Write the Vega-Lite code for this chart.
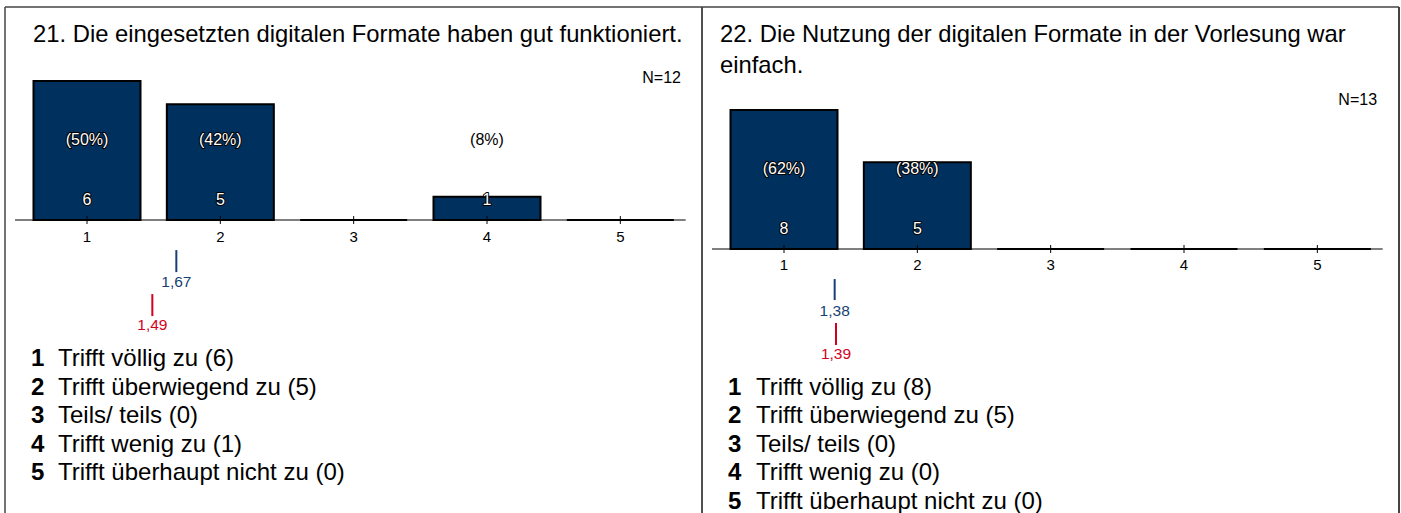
{
  "$schema": "https://vega.github.io/schema/vega-lite/v6.json",
  "autosize": {"type": "pad"},
  "padding": {"left": 4, "top": 6, "right": 1, "bottom": 0},
  "background": "white",
  "spacing": 0,
  "bounds": "flush",
  "config": {
    "axis": {"disable": true},
    "view": {"stroke": null},
    "font": "Liberation Sans",
    "text": {"font": "Liberation Sans"}
  },
  "datasets": {
    "meta1": [{"title": "21. Die eingesetzten digitalen Formate haben gut funktioniert.", "n": "N=12"}],
    "bars1": [
      {"code": 1, "count": 6, "pct": "(50%)", "label": "Trifft völlig zu (6)"},
      {"code": 2, "count": 5, "pct": "(42%)", "label": "Trifft überwiegend zu (5)"},
      {"code": 3, "count": 0, "pct": "", "label": "Teils/ teils (0)"},
      {"code": 4, "count": 1, "pct": "(8%)", "label": "Trifft wenig zu (1)"},
      {"code": 5, "count": 0, "pct": "", "label": "Trifft überhaupt nicht zu (0)"}
    ],
    "means1": [
      {"kind": "mean", "value": 1.67, "label": "1,67"},
      {"kind": "ref", "value": 1.49, "label": "1,49"}
    ],
    "meta2": [{"title": "22. Die Nutzung der digitalen Formate in der Vorlesung war\neinfach.", "n": "N=13"}],
    "bars2": [
      {"code": 1, "count": 8, "pct": "(62%)", "label": "Trifft völlig zu (8)"},
      {"code": 2, "count": 5, "pct": "(38%)", "label": "Trifft überwiegend zu (5)"},
      {"code": 3, "count": 0, "pct": "", "label": "Teils/ teils (0)"},
      {"code": 4, "count": 0, "pct": "", "label": "Trifft wenig zu (0)"},
      {"code": 5, "count": 0, "pct": "", "label": "Trifft überhaupt nicht zu (0)"}
    ],
    "means2": [
      {"kind": "mean", "value": 1.38, "label": "1,38"},
      {"kind": "ref", "value": 1.39, "label": "1,39"}
    ]
  },
  "hconcat": [
    {
      "width": 697,
      "height": 506,
      "resolve": {"scale": {"y": "independent"}},
      "layer": [
        {
          "layer": [
            {"data": {"name": "meta1"}, "mark": {"type": "rule", "color": "#444", "strokeWidth": 1.5},
             "encoding": {"x": {"datum": 0.385, "type": "quantitative", "scale": {"domain": [0.385, 5.6125], "nice": false, "zero": false, "padding": 0}},
                          "y": {"datum": 9.2009, "type": "quantitative", "scale": {"domain": [-12.656, 9.2009], "nice": false, "zero": false}},
                          "y2": {"datum": -12.656}}},
            {"data": {"name": "meta1"}, "mark": {"type": "rule", "color": "#444", "strokeWidth": 1.5},
             "encoding": {"x": {"datum": 5.6125, "type": "quantitative", "scale": {"domain": [0.385, 5.6125], "nice": false, "zero": false, "padding": 0}},
                          "y": {"datum": 9.2009, "type": "quantitative", "scale": {"domain": [-12.656, 9.2009], "nice": false, "zero": false}},
                          "y2": {"datum": -12.656}}},
            {"data": {"name": "meta1"}, "mark": {"type": "rule", "color": "#444", "strokeWidth": 1.5},
             "encoding": {"x": {"datum": 0.385, "type": "quantitative", "scale": {"domain": [0.385, 5.6125], "nice": false, "zero": false, "padding": 0}},
                          "x2": {"datum": 5.6125},
                          "y": {"datum": 9.2009, "type": "quantitative", "scale": {"domain": [-12.656, 9.2009], "nice": false, "zero": false}}}},
            {"data": {"name": "meta1"}, "mark": {"type": "text", "align": "left", "baseline": "alphabetic", "fontSize": 23.8, "color": "black"},
             "encoding": {"x": {"datum": 0.595, "type": "quantitative", "scale": {"domain": [0.385, 5.6125], "nice": false, "zero": false, "padding": 0}},
                          "y": {"datum": 7.689, "type": "quantitative", "scale": {"domain": [-12.656, 9.2009], "nice": false, "zero": false}},
                          "text": {"field": "title"}}},
            {"data": {"name": "meta1"}, "mark": {"type": "text", "align": "right", "baseline": "middle", "fontSize": 16, "color": "black"},
             "encoding": {"x": {"datum": 5.455, "type": "quantitative", "scale": {"domain": [0.385, 5.6125], "nice": false, "zero": false, "padding": 0}},
                          "y": {"datum": 6.134, "type": "quantitative", "scale": {"domain": [-12.656, 9.2009], "nice": false, "zero": false}},
                          "text": {"field": "n"}}},
            {"data": {"name": "meta1"}, "mark": {"type": "rule", "color": "black", "strokeWidth": 1},
             "encoding": {"x": {"datum": 0.46, "type": "quantitative", "scale": {"domain": [0.385, 5.6125], "nice": false, "zero": false, "padding": 0}},
                          "x2": {"datum": 5.49},
                          "y": {"datum": 0, "type": "quantitative", "scale": {"domain": [-12.656, 9.2009], "nice": false, "zero": false}}}},
            {"data": {"name": "bars1"}, "mark": {"type": "bar", "width": 107, "fill": "#00305e", "stroke": "black", "strokeWidth": 2},
             "encoding": {"x": {"field": "code", "type": "quantitative", "scale": {"domain": [0.385, 5.6125], "nice": false, "zero": false, "padding": 0}},
                          "y": {"field": "count", "type": "quantitative", "scale": {"domain": [-12.656, 9.2009], "nice": false, "zero": false}},
                          "y2": {"datum": 0}}},
            {"data": {"name": "bars1"}, "mark": {"type": "rule", "color": "black", "strokeWidth": 1},
             "encoding": {"x": {"field": "code", "type": "quantitative", "scale": {"domain": [0.385, 5.6125], "nice": false, "zero": false, "padding": 0}},
                          "y": {"datum": -0.17, "type": "quantitative", "scale": {"domain": [-12.656, 9.2009], "nice": false, "zero": false}},
                          "y2": {"datum": 0.17}}},
            {"data": {"name": "bars1"}, "mark": {"type": "text", "align": "center", "baseline": "middle", "fontSize": 15, "color": "black"},
             "encoding": {"x": {"field": "code", "type": "quantitative", "scale": {"domain": [0.385, 5.6125], "nice": false, "zero": false, "padding": 0}},
                          "y": {"datum": -0.72, "type": "quantitative", "scale": {"domain": [-12.656, 9.2009], "nice": false, "zero": false}},
                          "text": {"field": "code"}}},
            {"data": {"name": "bars1"}, "transform": [{"filter": "datum.count > 3.46"}],
             "mark": {"type": "text", "align": "center", "baseline": "middle", "fontSize": 16, "fill": "black", "stroke": "black", "strokeWidth": 2, "strokeJoin": "round"},
             "encoding": {"x": {"field": "code", "type": "quantitative", "scale": {"domain": [0.385, 5.6125], "nice": false, "zero": false, "padding": 0}},
                          "y": {"datum": 3.46, "type": "quantitative", "scale": {"domain": [-12.656, 9.2009], "nice": false, "zero": false}},
                          "text": {"field": "pct"}}},
            {"data": {"name": "bars1"}, "transform": [{"filter": "datum.count > 0"}],
             "mark": {"type": "text", "align": "center", "baseline": "middle", "fontSize": 16},
             "encoding": {"x": {"field": "code", "type": "quantitative", "scale": {"domain": [0.385, 5.6125], "nice": false, "zero": false, "padding": 0}},
                          "y": {"datum": 3.46, "type": "quantitative", "scale": {"domain": [-12.656, 9.2009], "nice": false, "zero": false}},
                          "text": {"field": "pct"},
                          "color": {"condition": {"test": "datum.count > 3.46", "value": "white"}, "value": "black"}}},
            {"data": {"name": "bars1"}, "transform": [{"filter": "datum.count > 0"}],
             "mark": {"type": "text", "align": "center", "baseline": "middle", "fontSize": 16, "fill": "black", "stroke": "black", "strokeWidth": 2, "strokeJoin": "round"},
             "encoding": {"x": {"field": "code", "type": "quantitative", "scale": {"domain": [0.385, 5.6125], "nice": false, "zero": false, "padding": 0}},
                          "y": {"datum": 0.864, "type": "quantitative", "scale": {"domain": [-12.656, 9.2009], "nice": false, "zero": false}},
                          "text": {"field": "count"}}},
            {"data": {"name": "bars1"}, "transform": [{"filter": "datum.count > 0"}],
             "mark": {"type": "text", "align": "center", "baseline": "middle", "fontSize": 16, "color": "white"},
             "encoding": {"x": {"field": "code", "type": "quantitative", "scale": {"domain": [0.385, 5.6125], "nice": false, "zero": false, "padding": 0}},
                          "y": {"datum": 0.864, "type": "quantitative", "scale": {"domain": [-12.656, 9.2009], "nice": false, "zero": false}},
                          "text": {"field": "count"}}},
            {"data": {"name": "means1"}, "transform": [{"filter": "datum.kind == 'mean'"}],
             "mark": {"type": "rule", "color": "#173f73", "strokeWidth": 2},
             "encoding": {"x": {"field": "value", "type": "quantitative", "scale": {"domain": [0.385, 5.6125], "nice": false, "zero": false, "padding": 0}},
                          "y": {"datum": -1.3, "type": "quantitative", "scale": {"domain": [-12.656, 9.2009], "nice": false, "zero": false}},
                          "y2": {"datum": -2.25}}},
            {"data": {"name": "means1"}, "transform": [{"filter": "datum.kind == 'mean'"}],
             "mark": {"type": "text", "align": "center", "baseline": "middle", "fontSize": 15.5, "color": "#173f73"},
             "encoding": {"x": {"field": "value", "type": "quantitative", "scale": {"domain": [0.385, 5.6125], "nice": false, "zero": false, "padding": 0}},
                          "y": {"datum": -2.68, "type": "quantitative", "scale": {"domain": [-12.656, 9.2009], "nice": false, "zero": false}},
                          "text": {"field": "label"}}},
            {"data": {"name": "means1"}, "transform": [{"filter": "datum.kind == 'ref'"}],
             "mark": {"type": "rule", "color": "#d2001e", "strokeWidth": 2},
             "encoding": {"x": {"field": "value", "type": "quantitative", "scale": {"domain": [0.385, 5.6125], "nice": false, "zero": false, "padding": 0}},
                          "y": {"datum": -3.2, "type": "quantitative", "scale": {"domain": [-12.656, 9.2009], "nice": false, "zero": false}},
                          "y2": {"datum": -4.15}}},
            {"data": {"name": "means1"}, "transform": [{"filter": "datum.kind == 'ref'"}],
             "mark": {"type": "text", "align": "center", "baseline": "middle", "fontSize": 15.5, "color": "#d2001e"},
             "encoding": {"x": {"field": "value", "type": "quantitative", "scale": {"domain": [0.385, 5.6125], "nice": false, "zero": false, "padding": 0}},
                          "y": {"datum": -4.54, "type": "quantitative", "scale": {"domain": [-12.656, 9.2009], "nice": false, "zero": false}},
                          "text": {"field": "label"}}}
          ]
        },
        {
          "data": {"name": "bars1"},
          "layer": [
            {"mark": {"type": "text", "align": "left", "baseline": "middle", "fontSize": 24, "fontWeight": "bold", "color": "black"},
             "encoding": {"x": {"datum": 0.58, "type": "quantitative", "scale": {"domain": [0.385, 5.6125], "nice": false, "zero": false, "padding": 0}},
                          "y": {"field": "code", "type": "quantitative", "scale": {"domain": [-11.351, 6.403], "reverse": true, "nice": false, "zero": false}},
                          "text": {"field": "code"}}},
            {"mark": {"type": "text", "align": "left", "baseline": "middle", "fontSize": 24, "color": "black"},
             "encoding": {"x": {"datum": 0.7825, "type": "quantitative", "scale": {"domain": [0.385, 5.6125], "nice": false, "zero": false, "padding": 0}},
                          "y": {"field": "code", "type": "quantitative", "scale": {"domain": [-11.351, 6.403], "reverse": true, "nice": false, "zero": false}},
                          "text": {"field": "label"}}}
          ]
        }
      ]
    },
    {
      "width": 697,
      "height": 506,
      "resolve": {"scale": {"y": "independent"}},
      "layer": [
        {
          "layer": [
            {"data": {"name": "meta2"}, "mark": {"type": "rule", "color": "#444", "strokeWidth": 1.5},
             "encoding": {"x": {"datum": 0.385, "type": "quantitative", "scale": {"domain": [0.385, 5.6125], "nice": false, "zero": false, "padding": 0}},
                          "y": {"datum": 13.928, "type": "quantitative", "scale": {"domain": [-15.194, 13.928], "nice": false, "zero": false}},
                          "y2": {"datum": -15.194}}},
            {"data": {"name": "meta2"}, "mark": {"type": "rule", "color": "#444", "strokeWidth": 2},
             "encoding": {"x": {"datum": 5.6125, "type": "quantitative", "scale": {"domain": [0.385, 5.6125], "nice": false, "zero": false, "padding": 0}},
                          "y": {"datum": 13.928, "type": "quantitative", "scale": {"domain": [-15.194, 13.928], "nice": false, "zero": false}},
                          "y2": {"datum": -15.194}}},
            {"data": {"name": "meta2"}, "mark": {"type": "rule", "color": "#444", "strokeWidth": 1.5},
             "encoding": {"x": {"datum": 0.385, "type": "quantitative", "scale": {"domain": [0.385, 5.6125], "nice": false, "zero": false, "padding": 0}},
                          "x2": {"datum": 5.6125},
                          "y": {"datum": 13.928, "type": "quantitative", "scale": {"domain": [-15.194, 13.928], "nice": false, "zero": false}}}},
            {"data": {"name": "meta2"}, "mark": {"type": "text", "align": "left", "baseline": "alphabetic", "fontSize": 23.8, "color": "black", "lineBreak": "\n", "lineHeight": 31},
             "encoding": {"x": {"datum": 0.52, "type": "quantitative", "scale": {"domain": [0.385, 5.6125], "nice": false, "zero": false, "padding": 0}},
                          "y": {"datum": 11.914, "type": "quantitative", "scale": {"domain": [-15.194, 13.928], "nice": false, "zero": false}},
                          "text": {"field": "title"}}},
            {"data": {"name": "meta2"}, "mark": {"type": "text", "align": "right", "baseline": "middle", "fontSize": 16, "color": "black"},
             "encoding": {"x": {"datum": 5.448, "type": "quantitative", "scale": {"domain": [0.385, 5.6125], "nice": false, "zero": false, "padding": 0}},
                          "y": {"datum": 8.576, "type": "quantitative", "scale": {"domain": [-15.194, 13.928], "nice": false, "zero": false}},
                          "text": {"field": "n"}}},
            {"data": {"name": "meta2"}, "mark": {"type": "rule", "color": "black", "strokeWidth": 1},
             "encoding": {"x": {"datum": 0.46, "type": "quantitative", "scale": {"domain": [0.385, 5.6125], "nice": false, "zero": false, "padding": 0}},
                          "x2": {"datum": 5.49},
                          "y": {"datum": 0, "type": "quantitative", "scale": {"domain": [-15.194, 13.928], "nice": false, "zero": false}}}},
            {"data": {"name": "bars2"}, "mark": {"type": "bar", "width": 107, "fill": "#00305e", "stroke": "black", "strokeWidth": 2},
             "encoding": {"x": {"field": "code", "type": "quantitative", "scale": {"domain": [0.385, 5.6125], "nice": false, "zero": false, "padding": 0}},
                          "y": {"field": "count", "type": "quantitative", "scale": {"domain": [-15.194, 13.928], "nice": false, "zero": false}},
                          "y2": {"datum": 0}}},
            {"data": {"name": "bars2"}, "mark": {"type": "rule", "color": "black", "strokeWidth": 1},
             "encoding": {"x": {"field": "code", "type": "quantitative", "scale": {"domain": [0.385, 5.6125], "nice": false, "zero": false, "padding": 0}},
                          "y": {"datum": -0.23, "type": "quantitative", "scale": {"domain": [-15.194, 13.928], "nice": false, "zero": false}},
                          "y2": {"datum": 0.23}}},
            {"data": {"name": "bars2"}, "mark": {"type": "text", "align": "center", "baseline": "middle", "fontSize": 15, "color": "black"},
             "encoding": {"x": {"field": "code", "type": "quantitative", "scale": {"domain": [0.385, 5.6125], "nice": false, "zero": false, "padding": 0}},
                          "y": {"datum": -0.92, "type": "quantitative", "scale": {"domain": [-15.194, 13.928], "nice": false, "zero": false}},
                          "text": {"field": "code"}}},
            {"data": {"name": "bars2"}, "transform": [{"filter": "datum.count > 4.6"}],
             "mark": {"type": "text", "align": "center", "baseline": "middle", "fontSize": 16, "fill": "black", "stroke": "black", "strokeWidth": 2, "strokeJoin": "round"},
             "encoding": {"x": {"field": "code", "type": "quantitative", "scale": {"domain": [0.385, 5.6125], "nice": false, "zero": false, "padding": 0}},
                          "y": {"datum": 4.6, "type": "quantitative", "scale": {"domain": [-15.194, 13.928], "nice": false, "zero": false}},
                          "text": {"field": "pct"}}},
            {"data": {"name": "bars2"}, "transform": [{"filter": "datum.count > 0"}],
             "mark": {"type": "text", "align": "center", "baseline": "middle", "fontSize": 16},
             "encoding": {"x": {"field": "code", "type": "quantitative", "scale": {"domain": [0.385, 5.6125], "nice": false, "zero": false, "padding": 0}},
                          "y": {"datum": 4.6, "type": "quantitative", "scale": {"domain": [-15.194, 13.928], "nice": false, "zero": false}},
                          "text": {"field": "pct"},
                          "color": {"condition": {"test": "datum.count > 4.6", "value": "white"}, "value": "black"}}},
            {"data": {"name": "bars2"}, "transform": [{"filter": "datum.count > 0"}],
             "mark": {"type": "text", "align": "center", "baseline": "middle", "fontSize": 16, "fill": "black", "stroke": "black", "strokeWidth": 2, "strokeJoin": "round"},
             "encoding": {"x": {"field": "code", "type": "quantitative", "scale": {"domain": [0.385, 5.6125], "nice": false, "zero": false, "padding": 0}},
                          "y": {"datum": 1.15, "type": "quantitative", "scale": {"domain": [-15.194, 13.928], "nice": false, "zero": false}},
                          "text": {"field": "count"}}},
            {"data": {"name": "bars2"}, "transform": [{"filter": "datum.count > 0"}],
             "mark": {"type": "text", "align": "center", "baseline": "middle", "fontSize": 16, "color": "white"},
             "encoding": {"x": {"field": "code", "type": "quantitative", "scale": {"domain": [0.385, 5.6125], "nice": false, "zero": false, "padding": 0}},
                          "y": {"datum": 1.15, "type": "quantitative", "scale": {"domain": [-15.194, 13.928], "nice": false, "zero": false}},
                          "text": {"field": "count"}}},
            {"data": {"name": "means2"}, "transform": [{"filter": "datum.kind == 'mean'"}],
             "mark": {"type": "rule", "color": "#173f73", "strokeWidth": 2},
             "encoding": {"x": {"field": "value", "type": "quantitative", "scale": {"domain": [0.385, 5.6125], "nice": false, "zero": false, "padding": 0}},
                          "y": {"datum": -1.73, "type": "quantitative", "scale": {"domain": [-15.194, 13.928], "nice": false, "zero": false}},
                          "y2": {"datum": -2.94}}},
            {"data": {"name": "means2"}, "transform": [{"filter": "datum.kind == 'mean'"}],
             "mark": {"type": "text", "align": "center", "baseline": "middle", "fontSize": 15.5, "color": "#173f73"},
             "encoding": {"x": {"field": "value", "type": "quantitative", "scale": {"domain": [0.385, 5.6125], "nice": false, "zero": false, "padding": 0}},
                          "y": {"datum": -3.57, "type": "quantitative", "scale": {"domain": [-15.194, 13.928], "nice": false, "zero": false}},
                          "text": {"field": "label"}}},
            {"data": {"name": "means2"}, "transform": [{"filter": "datum.kind == 'ref'"}],
             "mark": {"type": "rule", "color": "#d2001e", "strokeWidth": 2},
             "encoding": {"x": {"field": "value", "type": "quantitative", "scale": {"domain": [0.385, 5.6125], "nice": false, "zero": false, "padding": 0}},
                          "y": {"datum": -4.26, "type": "quantitative", "scale": {"domain": [-15.194, 13.928], "nice": false, "zero": false}},
                          "y2": {"datum": -5.52}}},
            {"data": {"name": "means2"}, "transform": [{"filter": "datum.kind == 'ref'"}],
             "mark": {"type": "text", "align": "center", "baseline": "middle", "fontSize": 15.5, "color": "#d2001e"},
             "encoding": {"x": {"field": "value", "type": "quantitative", "scale": {"domain": [0.385, 5.6125], "nice": false, "zero": false, "padding": 0}},
                          "y": {"datum": -6.04, "type": "quantitative", "scale": {"domain": [-15.194, 13.928], "nice": false, "zero": false}},
                          "text": {"field": "label"}}}
          ]
        },
        {
          "data": {"name": "bars2"},
          "layer": [
            {"mark": {"type": "text", "align": "left", "baseline": "middle", "fontSize": 24, "fontWeight": "bold", "color": "black"},
             "encoding": {"x": {"datum": 0.58, "type": "quantitative", "scale": {"domain": [0.385, 5.6125], "nice": false, "zero": false, "padding": 0}},
                          "y": {"field": "code", "type": "quantitative", "scale": {"domain": [-12.353, 5.401], "reverse": true, "nice": false, "zero": false}},
                          "text": {"field": "code"}}},
            {"mark": {"type": "text", "align": "left", "baseline": "middle", "fontSize": 24, "color": "black"},
             "encoding": {"x": {"datum": 0.79, "type": "quantitative", "scale": {"domain": [0.385, 5.6125], "nice": false, "zero": false, "padding": 0}},
                          "y": {"field": "code", "type": "quantitative", "scale": {"domain": [-12.353, 5.401], "reverse": true, "nice": false, "zero": false}},
                          "text": {"field": "label"}}}
          ]
        }
      ]
    }
  ]
}
